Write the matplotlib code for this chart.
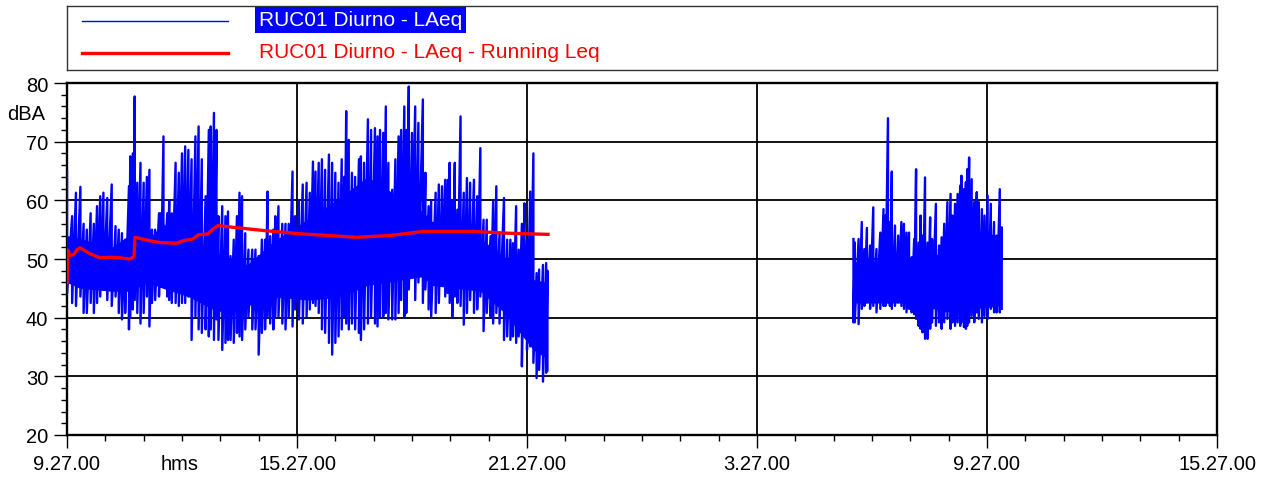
import numpy as np
import matplotlib
matplotlib.use('Agg')
import matplotlib.pyplot as plt
from matplotlib.ticker import MultipleLocator, FuncFormatter

plt.rcParams['font.family'] = ['Liberation Sans', 'DejaVu Sans']

# début de la mesure : 9.27.00 ; temps en minutes depuis le début
debut_h, debut_m = 9, 27

# LAeq, 1ere partie : max / min par tranche de ~5 minutes
t1 = [0, 8, 14, 21, 26, 31, 37, 42, 47, 52, 57, 63, 70, 76, 81, 86, 91, 97, 99, 103,
      106, 110, 115, 120, 125, 129, 133, 138, 144, 147, 151, 157, 160, 164, 170, 175, 180, 185, 190, 195,
      201, 206, 211, 217, 222, 225, 230, 234, 237, 243, 248, 252, 256, 261, 266, 270, 274, 279, 284, 290,
      295, 300, 305, 310, 314, 318, 323, 326, 331, 337, 342, 347, 353, 357, 363, 369, 375, 380, 385, 389,
      394, 399, 404, 410, 415, 420, 425, 430, 434, 437, 441, 446, 451, 457, 460, 465, 471, 476, 482, 486,
      490, 495, 499, 503, 509, 514, 519, 523, 528, 531, 535, 540, 545, 550, 557, 561, 566, 570, 577, 582,
      587, 592, 596, 599, 603, 607, 611, 616, 621, 626, 631, 637, 642, 647, 652, 657, 663, 667, 672, 677,
      684, 689, 694, 698, 703, 707, 712, 716, 720, 725, 730, 735, 739, 745, 750, 752]
max1 = [65, 57.3, 61.3, 62.3, 56, 55, 57.8, 56, 59, 60.7, 61.3, 60.4, 62.7, 55.6, 55, 54.4, 53.3, 62.4, 67.5, 68,
        77.7, 63, 66.4, 63, 64, 65.2, 55, 55, 57.8, 57.8, 70.9, 57.8, 60, 57.8, 66.4, 64.7, 68, 69.2, 68.6, 67,
        70.9, 72.6, 67, 60.7, 72, 72.6, 74.9, 72, 57.3, 59, 57.3, 58.1, 50.5, 53.3, 57.3, 61.3, 60.7, 54.4, 51.6, 51.6,
        51.6, 50.5, 53.3, 53.3, 61.5, 53.9, 55, 57.3, 59, 56, 56, 56, 64.9, 57.3, 60, 62.7, 63, 61.3, 66.6, 64.9,
        66.4, 67, 65.2, 67.8, 66.4, 64.7, 63, 67, 64, 75.2, 70.3, 64.7, 64, 67, 67.5, 66.4, 73.8, 72, 72.3, 70.9,
        72, 71.5, 76, 66.4, 61.8, 67, 70.9, 72, 76, 72, 79.4, 71.5, 76, 73.2, 77.2, 64.7, 59, 60, 61.3, 62.7,
        62.4, 63.5, 63.5, 66.4, 60, 66.4, 58.4, 74.3, 61.3, 63.8, 63, 63.5, 60.7, 68.9, 56.7, 56.7, 53.9, 59.8, 62.4, 54.4,
        60.4, 53.3, 53.3, 52.7, 59, 51.6, 56, 59.5, 53.3, 61.5, 68, 47.6, 48.2, 49, 49.3, 48]
min1 = [44, 42.5, 42, 43.6, 40.8, 40.8, 42.5, 40.8, 42.5, 43.6, 44.8, 43, 42, 43.6, 40.8, 39.7, 40.8, 38, 40.2, 41.4,
        43, 40.8, 39, 40.8, 43.6, 38.5, 42.5, 43, 43.6, 45.3, 46, 43.6, 43, 42.5, 42.5, 42, 42.5, 42.5, 43.6, 36.2,
        40.2, 38, 37.4, 38, 36.8, 38, 36.2, 39.7, 36.2, 34.5, 35.7, 36.2, 36.2, 35.7, 37.4, 36.8, 36.2, 38, 40.2, 38,
        38, 33.7, 37.4, 38, 40.2, 39, 38, 40.2, 40.2, 39, 38, 40.2, 38.5, 41.4, 39.7, 39, 40.2, 41.4, 42.5, 42,
        40.8, 38, 37.4, 35.7, 33.7, 35.7, 36.8, 38, 40.2, 39, 38, 39, 38, 37.4, 36.2, 38, 39, 40.2, 39, 38.5,
        40.2, 40.2, 40.8, 39.7, 39.7, 39.7, 40.8, 43, 40.2, 40.8, 44.8, 48.2, 43, 46, 42.5, 44.8, 41.4, 40.2, 40.8, 42.5,
        46, 43.6, 44.2, 42.5, 40, 43.6, 42.5, 42, 38.8, 40.8, 43, 40.8, 41.4, 43.6, 37.7, 40.8, 40.2, 39, 40.8, 39,
        36.2, 36.8, 36.2, 36.8, 35.7, 36.8, 31.7, 36.8, 34.5, 35.1, 32.3, 29.7, 31.1, 29.1, 30.6, 31]

# bande où le signal est dense (1ere partie)
t_coeur1 = [0, 20, 70, 97, 128, 150, 192, 235, 282, 323, 380, 428, 470, 558, 570, 647, 683, 730, 752]
haut_coeur1 = [54, 53.5, 52, 54, 53.5, 56, 54, 51, 49, 53, 57, 60.5, 64, 58, 56.5, 53.5, 50.5, 46.5, 46]
bas_coeur1 = [46, 45, 44.5, 44.5, 46, 45, 43.5, 41, 42, 43.5, 43, 43.5, 45.5, 47, 45.5, 44.5, 41, 34.5, 33]

# LAeq, 2e partie (le lendemain matin)
t2 = [1231, 1233, 1239, 1244, 1248, 1252, 1257, 1262, 1267, 1273, 1278, 1281, 1285, 1288, 1291, 1296, 1301, 1306, 1310, 1314,
      1318, 1322, 1326, 1329, 1333, 1336, 1339, 1343, 1347, 1351, 1354, 1360, 1365, 1369, 1373, 1378, 1383, 1386, 1390, 1394,
      1398, 1400, 1404, 1407, 1409, 1412, 1416, 1420, 1424, 1427, 1432, 1436, 1441, 1446, 1451, 1455, 1460, 1463]
max2 = [53.4, 52.8, 53.4, 56.3, 51.7, 55.3, 52.3, 58.8, 51.7, 54.5, 58.5, 57.4, 74, 56.3, 64.9, 55.7, 54, 56.3, 56, 54.5,
        54.5, 50.3, 53.4, 65.3, 52.8, 57.4, 54, 63.9, 52.8, 57.1, 53.4, 59.4, 52.3, 53.7, 56, 59.7, 61.1, 57.4, 59.4, 61.1,
        62.5, 64.2, 61.9, 63.1, 65.3, 67.3, 63.6, 59.7, 61.4, 59.7, 58.5, 57.4, 60.8, 59.4, 56.3, 54, 61.9, 55.4]
min2 = [39.2, 39.2, 38.9, 41.5, 42, 42.6, 41.5, 42, 40.9, 41.5, 42, 42, 42.6, 42, 41.5, 42, 42.6, 42, 41.5, 40.9,
        41.5, 40.9, 40.6, 39.8, 38.6, 38.1, 37.5, 36.4, 36.4, 38.1, 39.2, 38.6, 39.2, 38.1, 39.2, 39.8, 38.1, 39.2, 38.6, 39.2,
        38.6, 39.2, 38.4, 38.1, 38.6, 39.2, 40.3, 39.2, 40.9, 39.8, 39.2, 40.3, 39.8, 41.5, 40.9, 40.9, 40.9, 41.5]

# bande dense (2e partie)
t_coeur2 = [1231, 1322, 1374, 1420, 1463]
haut_coeur2 = [49.5, 50, 51, 54.5, 54]
bas_coeur2 = [42.5, 42.5, 41, 41.5, 42]

# Running Leq
t_leq = [0, 1.6, 4.7, 11, 15.7, 20.3, 28.2, 36, 51.7, 67.3, 83, 98.6, 104.9, 106.4, 129.9, 145.6,
         172.2, 181.6, 197.2, 205, 220.7, 228.5, 236.3, 259.8, 313, 364.7, 453.9, 505.5, 557.2, 635.4, 688.7, 752.9]
leq = [46.0, 51.5, 50.6, 50.8, 51.6, 51.9, 51.4, 50.9, 50.2, 50.3, 50.2, 50.0, 50.4, 53.7, 53.1, 52.8,
       52.7, 53.1, 53.4, 54.1, 54.3, 55.1, 55.7, 55.4, 54.8, 54.3, 53.7, 54.0, 54.7, 54.7, 54.4, 54.2]

nom_laeq = 'RUC01 Diurno - LAeq'
nom_leq = 'RUC01 Diurno - LAeq - Running Leq'

bleu = '#0000ff'
rouge = '#ff0000'


def zigzag(t, haut, bas):
    # alterne max et min de chaque tranche
    x = np.repeat(np.array(t, dtype=float), 2)
    y = np.column_stack([haut, bas]).ravel()
    return x, y


def hms(x, pos):
    total = int(round(debut_h * 60 + debut_m + x))
    return '%d.%02d.00' % ((total // 60) % 24, total % 60)


fig = plt.figure(figsize=(12.62, 4.81), dpi=100)
ax = fig.add_axes([67 / 1262, 45 / 481, 1150 / 1262, 352 / 481])

ax.fill_between(t_coeur1, bas_coeur1, haut_coeur1, color=bleu, lw=0, zorder=3)
ax.fill_between(t_coeur2, bas_coeur2, haut_coeur2, color=bleu, lw=0, zorder=3)
x1, y1 = zigzag(t1, max1, min1)
x2, y2 = zigzag(t2, max2, min2)
ax.plot(x1, y1, color=bleu, lw=1.7, zorder=3)
ax.plot(x2, y2, color=bleu, lw=1.7, zorder=3)
ax.plot(t_leq, leq, color=rouge, lw=2.4, zorder=4)

ax.set_xlim(0, 1800)
ax.set_ylim(20, 80)
ax.xaxis.set_major_locator(MultipleLocator(360))
ax.xaxis.set_minor_locator(MultipleLocator(60))
ax.xaxis.set_major_formatter(FuncFormatter(hms))
ax.yaxis.set_major_locator(MultipleLocator(10))
ax.yaxis.set_minor_locator(MultipleLocator(2))
ax.grid(True, which='major', color='black', lw=1.3, zorder=1)
ax.tick_params(which='major', length=9.5, width=1.0, labelsize=14.5, pad=4, colors='black')
ax.tick_params(which='minor', length=4.5, width=1.0)
for s in ax.spines.values():
    s.set_linewidth(1.7)

fig.text(26 / 1262, 1 - 114 / 481, 'dBA', fontsize=14.5, ha='center', va='center')
fig.text(180 / 1262, 1 - 465 / 481, 'hms', fontsize=14.5, ha='center', va='center')

# cadre de la légende
leg = fig.add_axes([67 / 1262, 1 - 71 / 481, 1150 / 1262, 64 / 481])
leg.set_xlim(0, 1150)
leg.set_ylim(64, 0)
leg.set_xticks([])
leg.set_yticks([])
for s in leg.spines.values():
    s.set_linewidth(1.0)
    s.set_color('#333333')
leg.plot([15, 161], [15, 15], color=bleu, lw=1.0)
leg.plot([15, 161], [47, 47], color=rouge, lw=2.4)
leg.text(192, 14, nom_laeq, fontsize=15, color='white', va='center', ha='left',
         bbox=dict(facecolor=bleu, edgecolor='none', pad=2.5))
leg.text(192, 46, nom_leq, fontsize=15, color=rouge, va='center', ha='left')

fig.savefig('out.png', dpi=100)
